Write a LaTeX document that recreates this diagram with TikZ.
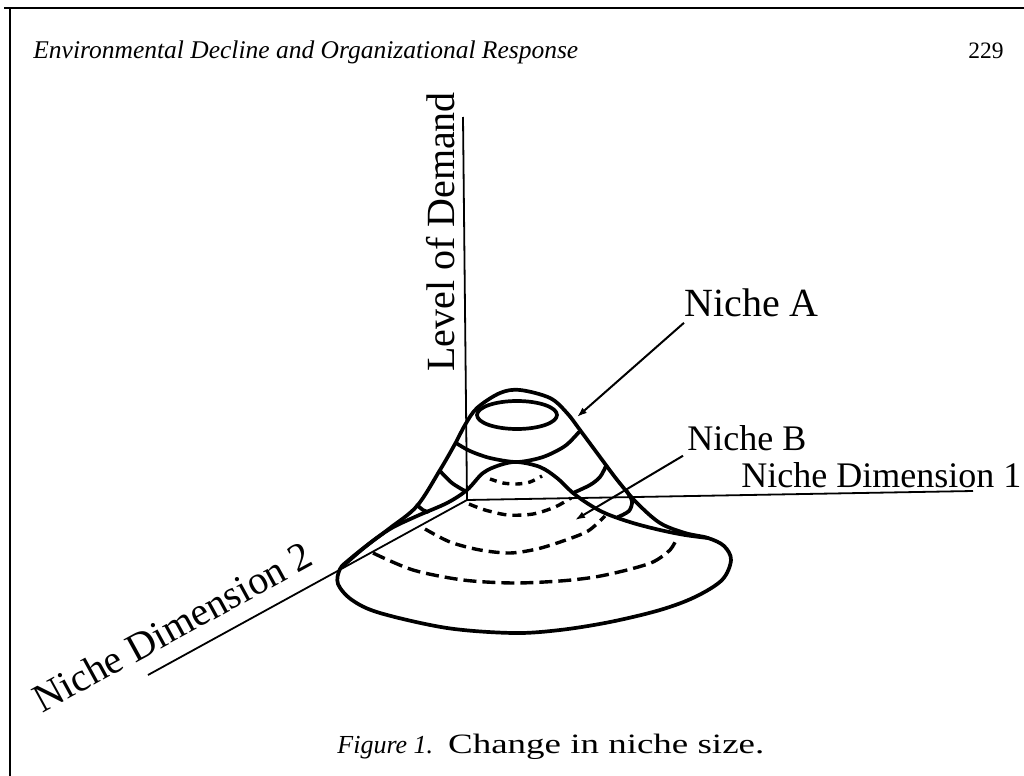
\documentclass[tikz,border=0pt]{standalone}
\usepackage{fontspec}
\setmainfont{Liberation Serif}
\newfontfamily\capfont[FakeStretch=1.32]{Liberation Serif}
\usepackage{tikz}
\usetikzlibrary{arrows.meta}
\tikzset{
  >=latex,  % frecce di default
  % superfici delle nicchie
  surface/.style={line width=1.85pt, line join=round, line cap=round},
  hidden/.style={line width=1.7pt, dash pattern=on #1 off 3pt},
  hidden/.default=5pt,
  % assi e richiami
  axis/.style={line width=0.9pt},
  leader/.style={-{Latex[length=5pt,width=3.5pt]}, line width=1pt},
  label/.style={inner sep=0, font=\fontsize{18}{20}\selectfont}
}

\begin{document}
\begin{tikzpicture}[x=0.5pt, y=-0.5pt]
  \useasboundingbox (0,0) rectangle (1024,776);
  % cornice della pagina
  \draw[line width=1pt] (4,8) -- (1024,8);
  \draw[line width=1pt] (10,8) -- (10,776);
  \node[label, anchor=base west, font=\fontsize{12.75}{14}\selectfont\itshape] (head) at (33,58) {Environmental Decline and Organizational Response};
  \node[label, anchor=base east, font=\fontsize{11.75}{13}\selectfont] (page) at (1004,58) {229};

  % assi
  \coordinate (origin) at (467,500);
  \coordinate (demand) at (463,117);
  \coordinate (dimone) at (973,491);
  \coordinate (dimtwo) at (148,675);
  \draw[axis] (demand) -- (origin) -- (dimone);
  \draw[axis] (origin) -- (dimtwo);

  % nicchia A: contorno e base
  \draw[surface] plot[smooth cycle, tension=0.55] coordinates {(708,538) (724,546) (731,560) (722,580) (695,597) (660,610) (610,622) (560,630) (513,633) (447,628) (380,613) (352,600) (338,584) (340,569) (350,559) (370,543) (390,528) (417,506) (440,470) (455,444) (465,425) (477,408) (500,393) (520,390) (550,398) (567,413) (580,430) (600,457) (618,481) (637,503) (660,523) (685,533)};
  \draw[surface] (517,415) ellipse [x radius=40, y radius=14];
  \draw[surface] plot[smooth] coordinates {(456,443) (470,451) (490,458) (517,462) (543,457) (565,446) (579,432)};
  \draw[surface] plot[smooth] coordinates {(440,471) (452,483) (465,491)};
  \draw[surface] plot[smooth] coordinates {(573,493) (590,485) (600,477) (606,466)};
  \draw[surface] plot[smooth] coordinates {(417,505) (423,510) (428,512)};
  \draw[surface] plot[smooth] coordinates {(626,490) (632,501) (629,511) (618,517)};

  % nicchia B
  \draw[surface] plot[smooth, tension=0.55] coordinates {(342,567) (365,547) (390,529) (417,516) (447,503) (467,490) (483,473) (500,465) (517,462) (540,467) (557,478) (573,493) (590,505) (607,514) (633,523) (660,530) (685,535) (708,538)};
  \draw[hidden=3.5pt] plot[smooth] coordinates {(490,479) (503,483) (517,484) (530,482) (542,476)};
  \draw[hidden=4.5pt] plot[smooth] coordinates {(469,504) (485,510) (508,515) (533,514) (555,507) (571,498)};
  \draw[hidden=5.5pt] plot[smooth] coordinates {(425,529) (450,542) (480,550) (510,553) (537,549) (563,541) (588,531) (605,516)};
  \draw[hidden=6.5pt] plot[smooth] coordinates {(373,553) (413,570) (463,580) (513,583) (560,581) (595,577) (627,570) (653,562) (670,550) (677,538)};

  % etichette
  \node[label, anchor=base west, font=\fontsize{20}{22}\selectfont] (nicheA) at (684,316) {Niche A};
  \node[label, anchor=base west] (nicheB) at (687,450) {Niche B};
  \node[label, anchor=base west] (dimOneLab) at (741,487) {Niche Dimension 1};
  \node[label, anchor=base, rotate=90, font=\fontsize{20}{22}\selectfont] (demandLab) at (454,232) {Level of Demand};
  \node[label, anchor=base, rotate=28.7, font=\fontsize{20}{22}\selectfont] (dimTwoLab) at (179,639) {Niche Dimension 2};
  \coordinate (tipA) at (577,417);
  \coordinate (tipB) at (575,520);
  \draw[leader] ([yshift=-3pt]nicheA.south west) -- (tipA);
  \draw[leader] ([xshift=-2pt,yshift=-2.5pt]nicheB.south west) -- (tipB);

  \node[anchor=base west, inner sep=0] (caption) at (337,753) {\fontsize{13}{15}\selectfont\itshape Figure 1.\hspace{7.5pt}{\capfont\upshape\fontsize{14}{16}\selectfont Change in niche size.}};
\end{tikzpicture}
\end{document}
